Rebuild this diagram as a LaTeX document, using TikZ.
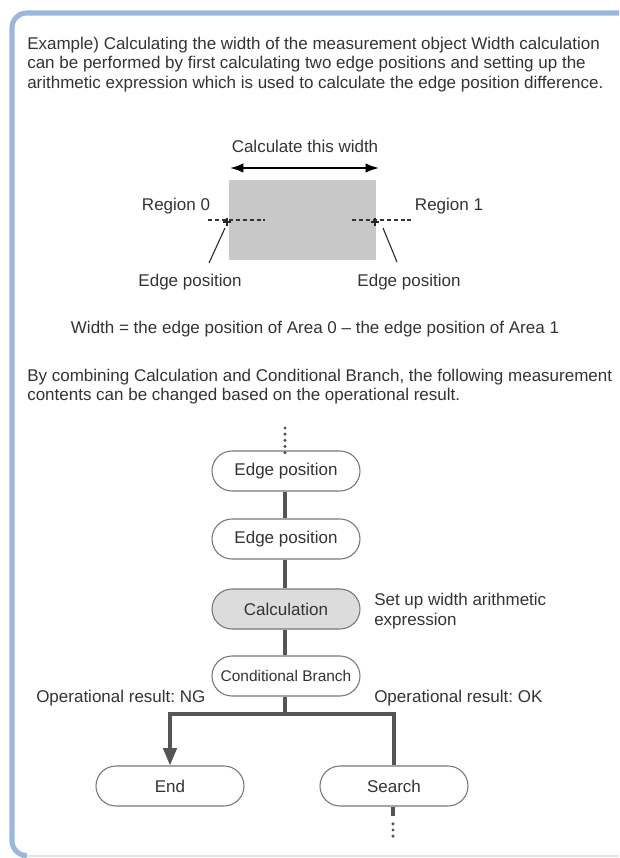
\documentclass[tikz,border=0pt]{standalone}
\usepackage{fontspec}
\setmainfont{Liberation Sans}
\usetikzlibrary{arrows.meta,shapes.misc}
\definecolor{framebl}{HTML}{9BB7DB}
\definecolor{framebot}{HTML}{E2E5F0}
\definecolor{ink}{HTML}{333333}
\definecolor{linegr}{HTML}{555555}
\definecolor{rimgr}{HTML}{777777}
\definecolor{boxgr}{HTML}{C8C8C8}
\definecolor{calcgr}{HTML}{DCDCDC}
\begin{document}
\frenchspacing
\begin{tikzpicture}[x=0.75pt,y=-0.75pt,
  font=\fontsize{12.75}{15}\selectfont,
  txt/.style={inner sep=0pt, anchor=base west, text=ink},
  ctr/.style={inner sep=0pt, text=ink},
  stepbox/.style={rounded rectangle, draw=rimgr, line width=0.8pt, fill=white,
    minimum width=111pt, minimum height=30pt, inner sep=0pt, text=ink},
  flow/.style={draw=linegr, line width=2.5pt},
  dotline/.style={draw=linegr, line width=2.6pt, line cap=round, dash pattern=on 0pt off 4.6pt},
  thin/.style={draw=black!85, line width=0.8pt},
  dashline/.style={draw=black!80, line width=0.8pt, dash pattern=on 3pt off 2.2pt}
]
\useasboundingbox (0,0) rectangle (619,858);

% panel frame
\draw[framebot, line width=1.6pt] (20,856) -- (619,856);
\draw[framebl, line width=3.8pt, rounded corners=11pt] (619,13) -- (12,13) -- (12,855.5) -- (22,855.5);

% introduction
\node[txt] (l1) at (27,49) {Example) Calculating the width of the measurement object Width calculation};
\node[txt] (l2) at (27,68.5) {can be performed by first calculating two edge positions and setting up the};
\node[txt] (l3) at (27,88) {arithmetic expression which is used to calculate the edge position difference.};

% measurement object and its width
\node[ctr] (cw) at (305,146) {Calculate this width};
\coordinate (wa) at (230,168);
\coordinate (wb) at (379,168);
\draw[line width=1.2pt, {Latex[length=10pt,width=7pt]}-{Latex[length=10pt,width=7pt]}] (wa) -- (wb);
\node[fill=boxgr, minimum width=110.25pt, minimum height=60pt, inner sep=0pt] (obj) at (302.5,220) {};

% edge positions
\coordinate (e0) at (227,222);
\coordinate (e1) at (375,222);
\coordinate (d0a) at (208,220); \coordinate (d0b) at (265,220);
\coordinate (d1a) at (352,220); \coordinate (d1b) at (413,220);
\draw[dashline] (d0a) -- (d0b);
\draw[dashline] (d1a) -- (d1b);
\draw[thin] ([xshift=-3pt]e0) -- ([xshift=3pt]e0) ([yshift=-3pt]e0) -- ([yshift=3pt]e0);
\draw[thin] ([xshift=-3pt]e1) -- ([xshift=3pt]e1) ([yshift=-3pt]e1) -- ([yshift=3pt]e1);
\node[ctr] (r0) at (176,206) {Region 0};
\node[ctr] (r1) at (449,206) {Region 1};
\node[ctr] (ep0) at (190,282) {Edge position};
\node[ctr] (ep1) at (409,282) {Edge position};
\coordinate (s0a) at (225,228); \coordinate (s0b) at (209,263);
\coordinate (s1a) at (383,228); \coordinate (s1b) at (397,262);
\draw[thin] (s0a) -- (s0b);
\draw[thin] (s1a) -- (s1b);

\node[ctr] (formula) at (315,329) {Width = the edge position of Area 0 -- the edge position of Area 1};

\node[txt] (l4) at (27,381) {By combining Calculation and Conditional Branch, the following measurement};
\node[txt] (l5) at (27,400.5) {contents can be changed based on the operational result.};

% flow of the measurement
\coordinate (top0) at (285,428);
\node[stepbox] (n1) at (286,471) {Edge position};
\node[stepbox] (n2) at (286,539) {Edge position};
\node[stepbox, fill=calcgr] (n3) at (286,609) {Calculation};
\node[stepbox, font=\fontsize{11.6}{13}\selectfont] (n4) at (286,676) {Conditional Branch};
\node[stepbox] (nend) at (170,786) {End};
\node[stepbox] (nsearch) at (394,786) {Search};
\coordinate (split) at (285,714);
\coordinate (bot0) at (393,840);

\draw[dotline] (top0) -- ([yshift=-4pt]n1.north -| top0);
\draw[flow] (n1.south -| split) -- (n2.north -| split);
\draw[flow] (n2.south -| split) -- (n3.north -| split);
\draw[flow] (n3.south -| split) -- (n4.north -| split);
\draw[flow] (n4.south -| split) -- (split);
\draw[flow, -{Triangle[length=13pt,width=10pt]}] (split) -| (nend.north);
\draw[flow] (split) -| (nsearch.north);
\draw[flow] (nsearch.south -| bot0) -- ([yshift=-7pt]nsearch.south -| bot0);
\draw[dotline] ([yshift=-13pt]nsearch.south -| bot0) -- (bot0);

\node[txt] (calcnote1) at (374,605) {Set up width arithmetic};
\node[txt] (calcnote2) at (374,625) {expression};
\node[txt] (ng) at (36,702) {Operational result: NG};
\node[txt] (ok) at (374,702) {Operational result: OK};
\end{tikzpicture}
\end{document}
